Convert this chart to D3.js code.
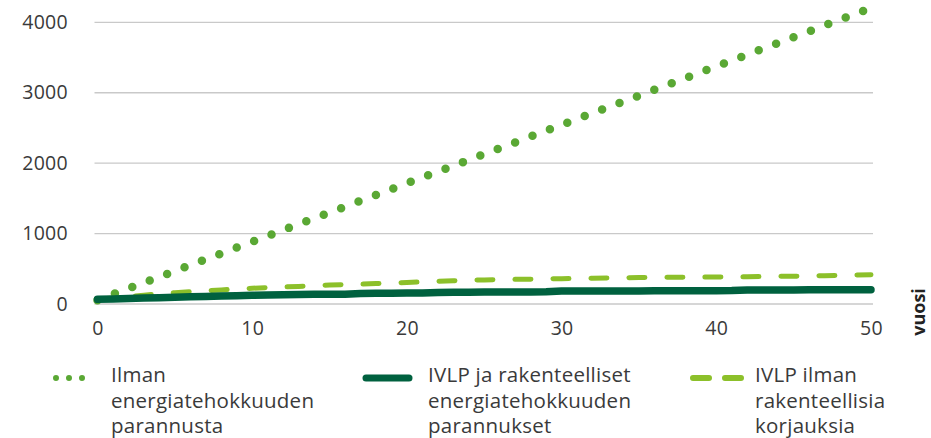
<!DOCTYPE html>
<html>
<head>
<meta charset="utf-8">
<script src="https://cdn.jsdelivr.net/npm/d3@7"></script>
<style>
    body { margin: 0; background: #fff; }
    svg { display: block; font-family: "Open Sans", sans-serif; }
</style>
</head>
<body>
<div id="chart"></div>
<script>
var years = d3.range(0, 51);

// Ilman energiatehokkuuden parannusta
var ilmanParannusta = [55, 138, 221, 304, 386, 469, 552, 636, 718, 801,
    884, 967, 1050, 1133, 1216, 1299, 1382, 1465, 1548, 1631,
    1714, 1797, 1880, 1963, 2046, 2129, 2212, 2295, 2378, 2461,
    2544, 2627, 2710, 2793, 2876, 2959, 3042, 3125, 3208, 3291,
    3374, 3457, 3540, 3623, 3706, 3789, 3872, 3955, 4038, 4121, 4204];

// IVLP ja rakenteelliset energiatehokkuuden parannukset
var ivlpJaRakenteelliset = [66, 72, 78, 85, 90, 96, 102, 108, 113, 118,
    123, 128, 132, 135, 137, 138, 139, 148, 151, 153,
    155, 157, 165, 167, 168, 169, 170, 171, 172, 173,
    183, 184, 185, 185, 186, 186, 187, 187, 188, 188,
    189, 190, 199, 199, 200, 200, 201, 201, 202, 202, 203];

// IVLP ilman rakenteellisia korjauksia
var ivlpIlmanRakenteellisia = [66, 85, 105, 125, 145, 160, 175, 188, 200, 212,
    223, 233, 242, 250, 260, 270, 276, 282, 290, 296,
    305, 314, 322, 330, 338, 342, 346, 350, 353, 356,
    359, 362, 366, 370, 373, 376, 378, 379, 381, 383,
    383, 384, 386, 390, 393, 395, 398, 402, 407, 411, 416];

var xTicks = [0, 10, 20, 30, 40, 50];
var yTicks = [0, 1000, 2000, 3000, 4000];
var xLabel = "vuosi";

var seriesNames = [
    ["Ilman", "energiatehokkuuden", "parannusta"],
    ["IVLP ja rakenteelliset", "energiatehokkuuden", "parannukset"],
    ["IVLP ilman", "rakenteellisia", "korjauksia"]
];

var series = [
    { name: seriesNames[0], values: ilmanParannusta, color: "#5aa834", width: 8.5, dash: "0,18.6",
      legendWidth: 6, legendDash: "0,13", legendX: [56, 95], textX: 111 },
    { name: seriesNames[2], values: ivlpIlmanRakenteellisia, color: "#8cc02a", width: 5, dash: "16,22",
      legendWidth: 6, legendDash: "16,16", legendX: [693, 741], textX: 755 },
    { name: seriesNames[1], values: ivlpJaRakenteelliset, color: "#00613f", width: 7.5, dash: null,
      legendWidth: 7, legendDash: null, legendX: [366, 409], textX: 428 }
];

var width = 931,
    height = 438;

var xScale = d3.scaleLinear().domain([0, 50]).range([97.5, 871]);
var yScale = d3.scaleLinear().domain([0, 4000]).range([304, 22.3]);

var svg = d3.select("#chart")
    .append("svg")
    .attr("width", width)
    .attr("height", height);

// gridlines
svg.append("g")
    .attr("class", "grid")
    .selectAll("line")
    .data(yTicks)
    .enter()
    .append("line")
    .attr("x1", xScale(0) - 3)
    .attr("x2", xScale(50) + 2)
    .attr("y1", function(d){ return yScale(d); })
    .attr("y2", function(d){ return yScale(d); })
    .attr("stroke", "#c9c9c9")
    .attr("stroke-width", 1.3);

// y-axis labels
var yAxis = d3.axisLeft(yScale).tickValues(yTicks).tickSize(0).tickPadding(0).tickFormat(d3.format("d"));
svg.append("g")
    .attr("class", "y-axis")
    .attr("transform", "translate(68,0)")
    .call(yAxis)
    .call(function(g){ g.select(".domain").remove(); })
    .selectAll("text")
    .attr("fill", "#3a3a3a")
    .style("font-size", "19.5px")
    .style("letter-spacing", "0.3px")
    .style("font-family", "Open Sans, sans-serif");

// x-axis labels
var xAxis = d3.axisBottom(xScale).tickValues(xTicks).tickSize(0).tickPadding(0).tickFormat(d3.format("d"));
svg.append("g")
    .attr("class", "x-axis")
    .attr("transform", "translate(0,321)")
    .call(xAxis)
    .call(function(g){ g.select(".domain").remove(); })
    .selectAll("text")
    .attr("fill", "#3a3a3a")
    .style("font-size", "19.5px")
    .style("letter-spacing", "0.3px")
    .style("font-family", "Open Sans, sans-serif");

svg.append("text")
    .attr("transform", "translate(925,312) rotate(-90)")
    .attr("text-anchor", "middle")
    .attr("fill", "#222")
    .style("font-size", "18px")
    .style("font-weight", "bold")
    .text(xLabel);

// lines
var line = d3.line()
    .x(function(d, i){ return xScale(years[i]); })
    .y(function(d){ return yScale(d); });

svg.append("g")
    .attr("class", "lines")
    .selectAll("path")
    .data(series)
    .enter()
    .append("path")
    .attr("d", function(d){ return line(d.values); })
    .attr("fill", "none")
    .attr("stroke", function(d){ return d.color; })
    .attr("stroke-width", function(d){ return d.width; })
    .attr("stroke-linecap", "round")
    .attr("stroke-linejoin", "round")
    .attr("stroke-dasharray", function(d){ return d.dash; });

// legend
var legend = svg.append("g")
    .attr("class", "legend")
    .selectAll("g")
    .data(series)
    .enter()
    .append("g");

legend.append("line")
    .attr("x1", function(d){ return d.legendX[0]; })
    .attr("x2", function(d){ return d.legendX[1]; })
    .attr("y1", 378)
    .attr("y2", 378)
    .attr("stroke", function(d){ return d.color; })
    .attr("stroke-width", function(d){ return d.legendWidth; })
    .attr("stroke-linecap", "round")
    .attr("stroke-dasharray", function(d){ return d.legendDash; });

legend.append("text")
    .attr("fill", "#3a3a3a")
    .style("font-size", "20.5px")
    .style("letter-spacing", "0.25px")
    .selectAll("tspan")
    .data(function(d){ return d.name.map(function(t){ return { t: t, x: d.textX }; }); })
    .enter()
    .append("tspan")
    .attr("x", function(d){ return d.x; })
    .attr("y", function(d, i){ return 382 + i * 25.5; })
    .text(function(d){ return d.t; });
</script>
</body>
</html>
